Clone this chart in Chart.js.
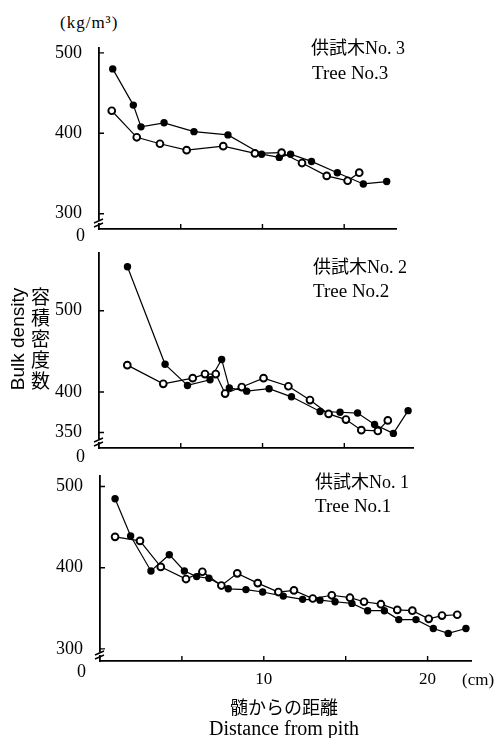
<!DOCTYPE html>
<html>
<head>
<meta charset="utf-8">
<script src="https://cdn.jsdelivr.net/npm/chart.js@4.4.0/dist/chart.umd.min.js"></script>
<style>
  body { margin: 0; background: #fff; }
  #wrap { position: relative; width: 497px; height: 738px; color: #000;
          font-family: "Liberation Serif", "Noto Sans CJK JP", serif; }
  canvas { position: absolute; left: 0; }
  .t { position: absolute; white-space: nowrap; line-height: 1; }
  .jp { font-family: "Liberation Serif", "Noto Sans CJK JP", serif; }
</style>
</head>
<body>
<div id="wrap">
  <canvas id="c3"></canvas>
  <canvas id="c2"></canvas>
  <canvas id="c1"></canvas>

  <div class="t" style="left:60px;top:14px;font-size:17px;letter-spacing:1px;">(kg/m³)</div>

  <div class="t jp" style="left:311px;top:39px;font-size:18px;">供試木No. 3</div>
  <div class="t" style="left:312px;top:63px;font-size:19px;">Tree No.3</div>
  <div class="t jp" style="left:313px;top:258px;font-size:18px;">供試木No. 2</div>
  <div class="t" style="left:313px;top:281px;font-size:19px;">Tree No.2</div>
  <div class="t jp" style="left:315px;top:473px;font-size:18px;">供試木No. 1</div>
  <div class="t" style="left:315px;top:496px;font-size:19px;">Tree No.1</div>

  <div class="t" style="left:17px;top:339px;font-size:19px;font-family:'Liberation Sans',sans-serif;
       transform:translate(-50%,-50%) rotate(-90deg);">Bulk density</div>
  <div class="t" style="left:31px;top:287px;font-size:19px;writing-mode:vertical-rl;letter-spacing:2px;
       font-family:'Noto Sans CJK JP',sans-serif;">容積密度数</div>

  <div class="t" style="left:462px;top:671px;font-size:17px;">(cm)</div>
  <div class="t jp" style="left:284px;top:699px;font-size:18px;transform:translateX(-50%);">髄からの距離</div>
  <div class="t" style="left:284px;top:718px;font-size:20px;transform:translateX(-50%);">Distance from pith</div>
</div>

<script>
// Tree No.3 (top panel)
const tree3FilledX = [0.84, 2.1, 2.57, 3.98, 5.81, 7.89, 9.95, 11.03, 11.72, 13.0, 14.58, 16.17, 17.6];
const tree3FilledY = [480, 435, 408, 413, 402, 398, 374, 370, 374, 365, 351, 337, 340];
const tree3OpenX = [0.78, 2.31, 3.73, 5.36, 7.6, 9.54, 11.17, 12.42, 13.93, 15.21, 15.92];
const tree3OpenY = [428, 395, 387, 379, 384, 375, 376, 363, 347, 341, 351];

// Tree No.2 (middle panel)
const tree2FilledX = [1.74, 4.04, 5.41, 6.79, 7.5, 7.97, 9.03, 10.4, 11.77, 13.52, 14.74, 15.81, 16.85, 18.0, 18.9];
const tree2FilledY = [554, 434, 408, 415, 440, 405, 401, 404, 394, 376, 375, 374, 360, 349, 377];
const tree2OpenX = [1.73, 3.93, 5.73, 6.48, 7.14, 7.71, 8.73, 10.06, 11.58, 12.9, 14.04, 15.1, 16.04, 17.05, 17.66];
const tree2OpenY = [433, 410, 417, 422, 422, 398, 406, 417, 407, 390, 373, 366, 353, 352, 365];

// Tree No.1 (bottom panel)
const tree1FilledX = [0.92, 1.87, 3.11, 4.23, 5.15, 5.9, 6.65, 7.83, 8.91, 9.93, 11.19, 12.37, 13.43, 14.35,
                      15.38, 16.34, 17.36, 18.24, 19.29, 20.35, 21.26, 22.34];
const tree1FilledY = [485, 439, 396, 416, 396, 389, 387, 374, 373, 370, 365, 361, 360, 358,
                      356, 347, 347, 336, 336, 325, 319, 325];
const tree1OpenX = [0.92, 2.44, 3.71, 5.25, 6.25, 7.41, 8.38, 9.63, 10.89, 11.84, 12.99, 14.15, 15.26, 16.12,
                    17.15, 18.15, 19.07, 20.07, 20.88, 21.81];
const tree1OpenY = [438, 433, 401, 386, 395, 378, 393, 381, 370, 372, 362, 366, 363, 358,
                    355, 348, 347, 337, 341, 342];

// tick labels
const xTicks = [5, 10, 15, 20];
const xLabelled = [10, 20];
const yTicks3 = [300, 400, 500];
const yTicks2 = [350, 400, 500];
const yTicks1 = [300, 400, 500];

const pts = (xs, ys) => xs.map((x, i) => ({ x: x, y: ys[i] }));

// inward tick marks, axis break and the "0" at the foot of each y axis
const axisMarks = {
  id: 'axisMarks',
  afterDraw(chart, args, opts) {
    const { ctx, chartArea: a, scales: { x, y } } = chart;
    ctx.save();
    ctx.strokeStyle = '#000';
    ctx.lineWidth = 1.4;
    ctx.beginPath();
    y.ticks.forEach(t => {
      const py = y.getPixelForValue(t.value);
      ctx.moveTo(a.left, py);
      ctx.lineTo(a.left + 5, py);
    });
    x.ticks.forEach(t => {
      const px = x.getPixelForValue(t.value);
      ctx.moveTo(px, a.bottom);
      ctx.lineTo(px, a.bottom - 5);
    });
    ctx.stroke();
    ctx.fillStyle = '#fff';
    ctx.fillRect(a.left - 2, a.bottom - 9, 4, 3);
    ctx.beginPath();
    [-4, -8].forEach(d => {
      ctx.moveTo(a.left - 5, a.bottom + d + 2);
      ctx.lineTo(a.left + 4, a.bottom + d - 2);
    });
    ctx.stroke();
    ctx.fillStyle = '#000';
    ctx.font = '18px "Liberation Serif"';
    ctx.textAlign = 'right';
    ctx.textBaseline = 'middle';
    ctx.fillText('0', a.left - 14, a.bottom + opts.zeroOffset);
    ctx.restore();
  }
};

function makePanel(id, layout, filled, open, yTicks, showX) {
  const cv = document.getElementById(id);
  cv.width = 497;
  cv.height = layout.height;
  cv.style.top = layout.top + 'px';
  new Chart(cv, {
    type: 'scatter',
    data: {
      datasets: [
        {
          data: open,
          showLine: true,
          borderColor: '#000',
          borderWidth: 1.2,
          pointRadius: 3.4,
          pointBorderWidth: 1.9,
          pointBackgroundColor: '#fff',
          pointBorderColor: '#000',
          clip: false
        },
        {
          data: filled,
          showLine: true,
          borderColor: '#000',
          borderWidth: 1.2,
          pointRadius: 3.7,
          pointBorderWidth: 0,
          pointBackgroundColor: '#000',
          clip: false
        }
      ]
    },
    options: {
      responsive: false,
      animation: false,
      devicePixelRatio: 1,
      events: [],
      layout: { padding: { top: 10, right: 497 - layout.axisEnd, bottom: 0, left: 0 } },
      plugins: {
        legend: { display: false },
        tooltip: { enabled: false },
        axisMarks: { zeroOffset: layout.zeroOffset }
      },
      scales: {
        x: {
          type: 'linear',
          min: 0,
          max: layout.xMax,
          grid: { display: false, drawTicks: false },
          border: { display: true, color: '#000', width: 1.8 },
          afterBuildTicks: s => { s.ticks = xTicks.filter(v => v <= layout.xMax).map(v => ({ value: v })); },
          afterFit: s => {
            s.height = layout.bottomSpace;
            s.paddingLeft = 0;
            s.paddingRight = 0;
          },
          ticks: {
            display: showX,
            padding: 8,
            color: '#000',
            font: { family: 'Liberation Serif', size: 17 },
            callback: v => xLabelled.includes(v) ? String(v) : ''
          }
        },
        y: {
          type: 'linear',
          min: layout.yMin,
          max: layout.yMax,
          grid: { display: false, drawTicks: false },
          border: { display: true, color: '#000', width: 1.8 },
          afterBuildTicks: s => { s.ticks = yTicks.map(v => ({ value: v })); },
          afterFit: s => {
            s.width = layout.axisX;
            s.paddingTop = 0;
            s.paddingBottom = 0;
          },
          ticks: {
            padding: 17,
            color: '#000',
            font: { family: 'Liberation Serif', size: 18 },
            callback: v => String(v)
          }
        }
      }
    },
    plugins: [axisMarks]
  });
}

makePanel('c3', { top: 38, height: 207, axisX: 99, axisEnd: 396, xMax: 18.17, yMin: 281, yMax: 506,
                  bottomSpace: 16, zeroOffset: 7 },
          pts(tree3FilledX, tree3FilledY), pts(tree3OpenX, tree3OpenY), yTicks3, false);
makePanel('c2', { top: 243, height: 221, axisX: 99, axisEnd: 413, xMax: 19.2, yMin: 331, yMax: 571,
                  bottomSpace: 16, zeroOffset: 9 },
          pts(tree2FilledX, tree2FilledY), pts(tree2OpenX, tree2OpenY), yTicks2, false);
makePanel('c1', { top: 466, height: 225, axisX: 100, axisEnd: 471, xMax: 22.65, yMin: 285, yMax: 513,
                  bottomSpace: 30, zeroOffset: 11 },
          pts(tree1FilledX, tree1FilledY), pts(tree1OpenX, tree1OpenY), yTicks1, true);
</script>
</body>
</html>
